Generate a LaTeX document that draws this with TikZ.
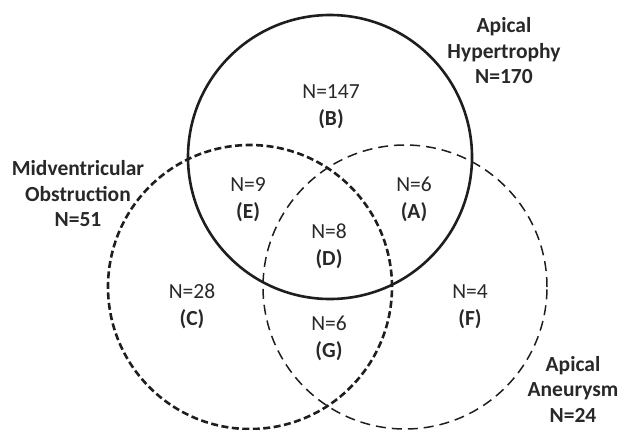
\documentclass[tikz,border=0pt]{standalone}
\usepackage{fontspec}
\setmainfont{Carlito}
\usetikzlibrary{positioning}
\definecolor{color_line}{RGB}{30,30,30}
\definecolor{color_text}{RGB}{40,40,40}

\begin{document}
\begin{tikzpicture}[x=1pt,y=-1pt,
set/.style={circle,minimum size=284pt,inner sep=0pt,draw=color_line},
set hyp/.style={set,line width=2.6pt},
set mid/.style={set,line width=2.6pt,dash pattern=on 7pt off 3.5pt},
set aneu/.style={set,line width=1.5pt,dash pattern=on 10pt off 6pt},
region/.style={align=center,text=color_text,font=\fontsize{21.5}{27}\selectfont,inner sep=0pt},
title/.style={align=center,text=color_text,font=\fontsize{21.5}{25.5}\selectfont\bfseries,inner sep=0pt}]
\useasboundingbox (0,0) rectangle (619,429);
% SETS
\node[set aneu] (aneu) at (405,287) {};
\node[set mid] (mid) at (250,287) {};
\node[set hyp] (hyp) at (330,157) {};
% TITLES
\node[title] (hyp title) at (504,51) {Apical\\Hypertrophy\\N=170};
\node[title] (mid title) at (78,194) {Midventricular\\Obstruction\\N=51};
\node[title] (aneu title) at (573,389) {Apical\\Aneurysm\\N=24};
% REGIONS
\node[region] (B) at (331,106.5) {N=147\\\textbf{(B)}};
\node[region] (E) at (248,199.5) {N=9\\\textbf{(E)}};
\node[region] (A) at (414,199.5) {N=6\\\textbf{(A)}};
\node[region] (D) at (329,246) {N=8\\\textbf{(D)}};
\node[region] (C) at (192,306.5) {N=28\\\textbf{(C)}};
\node[region] (F) at (470,306.5) {N=4\\\textbf{(F)}};
\node[region] (G) at (329,338) {N=6\\\textbf{(G)}};
\end{tikzpicture}
\end{document}
